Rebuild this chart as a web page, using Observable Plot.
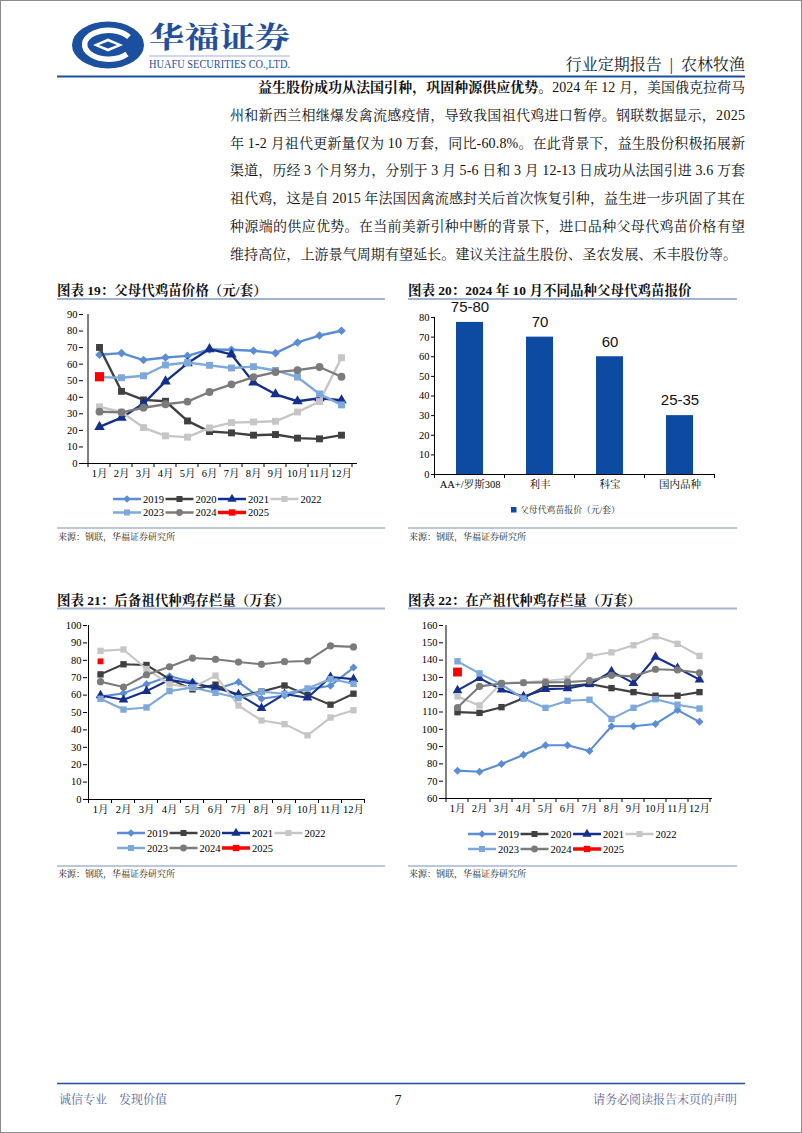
<!DOCTYPE html>
<html><head><meta charset="utf-8">
<script src="https://cdn.jsdelivr.net/npm/d3@7"></script>
<script src="https://cdn.jsdelivr.net/npm/@observablehq/plot@0.6"></script>
<style>
html,body{margin:0;padding:0;background:#fff;}
#page{position:relative;width:802px;height:1133px;overflow:hidden;background:#fff;}
#frame{position:absolute;left:0;top:0;width:802px;height:1133px;box-sizing:border-box;border:1px solid #8c8c8c;pointer-events:none;}
</style></head>
<body><div id="page"><svg id="deco" width="802" height="1133" style="position:absolute;left:0;top:0"></svg><div id="frame"></div></div>
<script>
// ---------- data ----------
const months = ["1月","2月","3月","4月","5月","6月","7月","8月","9月","10月","11月","12月"];
const years = ["2019","2020","2021","2022","2023","2024","2025"];

// 图表19 父母代鸡苗价格（元/套）
const price2019 = [65.7,66.7,62.5,64,65,68.9,68.7,68.1,66.7,73.1,77.3,80.2];
const price2020 = [70.1,43.6,38.4,37.6,25.7,19.3,18.5,17.1,17.5,15.3,14.9,17.1];
const price2021 = [22.1,27.7,36.2,49.6,60.5,69.1,65.9,49,41.8,37.6,39.4,38.2];
const price2022 = [34.2,31.1,21.7,16.7,15.9,21.5,24.7,25.1,25.5,31.1,37.4,63.9];
const price2023 = [52.2,51.8,53,59.5,61,59.3,57.7,58.5,56.2,52.2,42,35.4];
const price2024 = [31.3,30.9,33.7,35.8,37.4,43.2,47.8,52.2,55.2,56.4,58.3,52.4];
const price2025 = [52.4];
const priceTicks = [0,10,20,30,40,50,60,70,80,90];

// 图表20 2024年10月不同品种父母代鸡苗报价
const breeds = ["AA+/罗斯308","利丰","科宝","国内品种"];
const quote = [77.5,70,60,30];
const quoteLabels = ["75-80","70","60","25-35"];
const quoteTicks = [0,10,20,30,40,50,60,70,80];
const quoteLegend = "父母代鸡苗报价（元/套）";

// 图表21 后备祖代种鸡存栏量（万套）
const reserve2019 = [59.2,61,66.3,70.8,67.5,63.3,67.5,57.9,59.8,63.3,65.4,75.8];
const reserve2020 = [71.9,77.7,77.3,69.2,63.3,66,59.5,62,65.5,60,54.5,60.8];
const reserve2021 = [59.8,57.3,62.3,68.8,66.7,64.2,60.4,52.5,60.6,58.5,70.4,69.2];
const reserve2022 = [85.4,86.2,75,66.2,64.2,71.2,54,45.4,43.3,36.9,47.1,51.3];
const reserve2023 = [57.9,51.7,52.9,62.3,64.4,61.3,58.3,61.9,60.8,63.8,69.2,66.5];
const reserve2024 = [67.7,64.6,71.7,76.3,81.3,80.6,79,77.7,79.2,79.6,88.3,87.7];
const reserve2025 = [79.4];
const reserveTicks = [0,10,20,30,40,50,60,70,80,90,100];

// 图表22 在产祖代种鸡存栏量（万套）
const prod2019 = [76.1,75.5,79.9,85.3,90.8,90.8,87.5,101.8,101.8,103.1,111.1,104.3];
const prod2020 = [109.9,109.5,112.8,118,125,125,126.2,123.8,121.5,119.4,119.4,121.5];
const prod2021 = [122.5,129.6,122.9,119,123.2,123.6,126,133.5,126.7,141.8,135.4,128.7];
const prod2022 = [119,113.8,126.7,127.1,127.9,129.2,142.4,144.5,148.6,153.8,149.4,142.4];
const prod2023 = [139.3,132.3,125.8,117.8,112.4,116.5,117.1,106,112.4,117.4,114.2,112];
const prod2024 = [112.6,124.8,126.5,126.9,127.1,127.3,128.1,131.2,130.6,134.7,134.3,132.7];
const prod2025 = [133.1];
const prodTicks = [60,70,80,90,100,110,120,130,140,150,160];

// ---------- styles ----------
const SERIF = '"Liberation Serif","Times New Roman","Noto Serif CJK SC","Noto Sans CJK SC",serif';
const SANS = '"Liberation Sans",Arial,"Noto Sans CJK SC",sans-serif';
const CJK = '"Liberation Serif","Noto Serif CJK SC","Noto Sans CJK SC",serif';
const yearColors = ["#5a8dd6","#404040","#15308c","#c6c6c6","#7da8db","#7b7b7b","#ff0000"];
const yearSymbols = ["diamond2","square","triangle","square","square","circle","square"];
const symMap = {diamond2: d3.symbolDiamond2, square: d3.symbolSquare, triangle: d3.symbolTriangle, circle: d3.symbolCircle};

const page = document.getElementById("page");
const deco = d3.select("#deco");

// ---------- header ----------
const logo = deco.append("g");
logo.append("ellipse").attr("cx",108).attr("cy",45).attr("rx",36).attr("ry",23.5).attr("fill","#1b4f9f");
logo.append("path").attr("d","M 129 37 A 24 14.5 0 1 0 127 54").attr("fill","none").attr("stroke","#fff").attr("stroke-width",5.5);
logo.append("path").attr("d","M 93 45 L 108 38.5 L 123 45 L 108 51.5 Z").attr("fill","#fff");
logo.append("path").attr("d","M 99 45 L 108 41.5 L 117 45 L 108 48.5 Z").attr("fill","#1b4f9f");
deco.append("text").attr("x",149).attr("y",48).attr("font-family",CJK).attr("font-weight","bold").attr("font-size",29)
  .attr("fill","#1f4f9e").attr("textLength",141).attr("lengthAdjust","spacingAndGlyphs").text("华福证券");
deco.append("line").attr("x1",149).attr("x2",290).attr("y1",56).attr("y2",56).attr("stroke","#9fb2d6").attr("stroke-width",1);
deco.append("text").attr("x",149).attr("y",68).attr("font-family",SERIF).attr("font-size",11.5)
  .attr("fill","#1f4f9e").attr("textLength",141).attr("lengthAdjust","spacingAndGlyphs").text("HUAFU SECURITIES CO.,LTD.");
deco.append("text").attr("x",745).attr("y",70).attr("text-anchor","end").attr("font-family",CJK).attr("font-size",16)
  .attr("fill","#222").text("行业定期报告\u2002|\u2002农林牧渔");
deco.append("line").attr("x1",57).attr("x2",745).attr("y1",76.5).attr("y2",76.5).attr("stroke","#1f4f9e").attr("stroke-width",2);

// ---------- body text ----------
const bodyLines = [
  null,
  "州和新西兰相继爆发禽流感疫情，导致我国祖代鸡进口暂停。钢联数据显示，2025",
  "年 1-2 月祖代更新量仅为 10 万套，同比-60.8%。在此背景下，益生股份积极拓展新",
  "渠道，历经 3 个月努力，分别于 3 月 5-6 日和 3 月 12-13 日成功从法国引进 3.6 万套",
  "祖代鸡，这是自 2015 年法国因禽流感封关后首次恢复引种，益生进一步巩固了其在",
  "种源端的供应优势。在当前美新引种中断的背景下，进口品种父母代鸡苗价格有望",
  "维持高位，上游景气周期有望延长。建议关注益生股份、圣农发展、禾丰股份等。"
];
const first = deco.append("text").attr("x",258).attr("y",92).attr("font-family",CJK).attr("font-size",14)
  .attr("fill","#111").attr("textLength",487).attr("lengthAdjust","spacing");
first.append("tspan").attr("font-weight","bold").text("益生股份成功从法国引种，巩固种源供应优势。");
first.append("tspan").text("2024 年 12 月，美国俄克拉荷马");
bodyLines.forEach((t,i)=>{
  if(!t) return;
  deco.append("text").attr("x",230).attr("y",92+27.8*i).attr("font-family",CJK).attr("font-size",14)
    .attr("fill","#111").attr("textLength", i===6?507:515).attr("lengthAdjust","spacing").text(t);
});

// ---------- chart titles / sources ----------
function titleBlock(x, w, yTitle, yRule, ySrcRule, ySrc, title){
  deco.append("text").attr("x",x).attr("y",yTitle).attr("font-family",CJK).attr("font-weight","bold")
    .attr("font-size",13.5).attr("fill","#111").text(title);
  deco.append("line").attr("x1",x).attr("x2",x+w).attr("y1",yRule).attr("y2",yRule).attr("stroke","#a3b4d2").attr("stroke-width",2);
  deco.append("line").attr("x1",x).attr("x2",x+w).attr("y1",ySrcRule).attr("y2",ySrcRule).attr("stroke","#a3b4d2").attr("stroke-width",1.5);
  deco.append("text").attr("x",x+1).attr("y",ySrc).attr("font-family",CJK).attr("font-size",9)
    .attr("fill","#222").text("来源：钢联，华福证券研究所");
}
titleBlock(57,328,295,299,528,540,"图表 19：父母代鸡苗价格（元/套）");
titleBlock(408,329,295,299,528,540,"图表 20：2024 年 10 月不同品种父母代鸡苗报价");
titleBlock(57,328,605,608.5,866,877,"图表 21：后备祖代种鸡存栏量（万套）");
titleBlock(408,329,605,608.5,866,877,"图表 22：在产祖代种鸡存栏量（万套）");

// ---------- footer ----------
deco.append("line").attr("x1",57).attr("x2",745).attr("y1",1083.5).attr("y2",1083.5).attr("stroke","#1f4f9e").attr("stroke-width",1.5);
deco.append("text").attr("x",59).attr("y",1104).attr("font-family",CJK).attr("font-size",12).attr("fill","#5b6794").text("诚信专业\u3000发现价值");
deco.append("text").attr("x",398).attr("y",1105).attr("text-anchor","middle").attr("font-family",SERIF).attr("font-size",14).attr("fill","#111").text("7");
deco.append("text").attr("x",737).attr("y",1104).attr("text-anchor","end").attr("font-family",CJK).attr("font-size",12).attr("fill","#5b6794").text("请务必阅读报告末页的声明");

// ---------- helpers ----------
function place(chart, left, top){
  chart.style.position = "absolute";
  chart.style.left = left + "px";
  chart.style.top = top + "px";
  page.insertBefore(chart, document.getElementById("frame"));
}
function scaleFn(chart, name){
  const s = chart.scale(name);
  return v => s.apply(v);
}

function lineChart(cfg){
  const {left, top, width, height, ml, mr, mt, mb, yDomain, yTicks, series, sw, r, r25} = cfg;
  const marks = [Plot.ruleY([yDomain[0]], {stroke:"#000", strokeWidth:1})];
  series.forEach((vals, k) => {
    const data = vals.map((v,i)=>({m: months[i], v}));
    if (data.length > 1) marks.push(Plot.line(data, {x:"m", y:"v", stroke: yearColors[k], strokeWidth: sw}));
    marks.push(Plot.dot(data, {x:"m", y:"v", symbol: yearSymbols[k], r: k===6 ? r25 : r, fill: yearColors[k]}));
  });
  const chart = Plot.plot({
    width, height, marginLeft: ml, marginRight: mr, marginTop: mt, marginBottom: mb,
    x: {type:"point", domain: months, padding: 0.5, tickSize: 0, tickPadding: 6, label: null},
    y: {domain: yDomain, ticks: yTicks, tickSize: 4, tickPadding: 2, label: null},
    style: {fontFamily: SERIF, fontSize: "10.5px", color: "#000", background: "transparent", overflow: "visible"},
    marks
  });
  const sx = scaleFn(chart, "x"), sy = scaleFn(chart, "y");
  const c0 = sx(months[0]), step = sx(months[1]) - c0;
  const svg = d3.select(chart);
  const yb = sy(yDomain[0]), yt = sy(yDomain[1]);
  svg.append("line").attr("x1", c0-step/2).attr("x2", c0-step/2).attr("y1", yt).attr("y2", yb).attr("stroke","#000");
  months.concat([""]).forEach((m,i)=>{
    const x = c0 - step/2 + i*step;
    svg.append("line").attr("x1",x).attr("x2",x).attr("y1",yb).attr("y2",yb+4).attr("stroke","#000");
  });
  place(chart, left, top);
}

function legend(x0, y0, rowGap){
  years.forEach((yr,i)=>{
    const row = i < 4 ? 0 : 1, col = i < 4 ? i : i - 4;
    const g = deco.append("g").attr("transform", `translate(${x0 + col*52.5},${y0 + row*rowGap})`);
    g.append("line").attr("x1",0).attr("x2",28).attr("stroke",yearColors[i]).attr("stroke-width", i===6?3.5:2.5);
    const rr = i===6 ? 3.6 : 3.4;
    g.append("path").attr("d", d3.symbol(symMap[yearSymbols[i]], Math.PI*rr*rr)()).attr("transform","translate(14,0)").attr("fill",yearColors[i]);
    g.append("text").attr("x",30).attr("y",3.6).attr("font-family",SERIF).attr("font-size",10.5).attr("fill","#000").text(yr);
  });
}

// ---------- 图表19 ----------
lineChart({left:57, top:305, width:328, height:185, ml:26, mr:28, mt:9, mb:27,
  yDomain:[0,90], yTicks: priceTicks, sw:2.4, r:3.9, r25:5.2,
  series:[price2019,price2020,price2021,price2022,price2023,price2024,price2025]});
legend(113, 499, 13.5);

// ---------- 图表20 ----------
(function(){
  const width = 329, height = 190, ml = 27, mr = 22, mt = 12, mb = 21;
  const chart = Plot.plot({
    width, height, marginLeft: ml, marginRight: mr, marginTop: mt, marginBottom: mb,
    x: {type:"band", domain: breeds, paddingInner: 0.61, paddingOuter: 0.305, tickSize: 0, tickPadding: 6, label: null},
    y: {domain: [0,80], ticks: quoteTicks, tickSize: 4, tickPadding: 2, label: null},
    style: {fontFamily: SERIF, fontSize: "10.5px", color: "#000", background: "transparent", overflow: "visible"},
    marks: [
      Plot.barY(breeds, {x: breeds, y: quote, fill: "#0d4ba3"}),
      Plot.ruleY([0], {stroke:"#000"}),
      Plot.text(breeds, {x: breeds, y: quote, text: quoteLabels, dy: -15, fontSize: 15, fontFamily: SANS, fill: "#111"})
    ]
  });
  const s = chart.scale("x");
  const sx = v => s.apply(v), bw = s.bandwidth || 0;
  const sy = scaleFn(chart, "y");
  const c0 = sx(breeds[0]) + bw/2, step = sx(breeds[1]) - sx(breeds[0]);
  const svg = d3.select(chart);
  const yb = sy(0), yt = sy(80);
  svg.append("line").attr("x1", c0-step/2).attr("x2", c0-step/2).attr("y1", yt).attr("y2", yb).attr("stroke","#000");
  breeds.concat([""]).forEach((b,i)=>{
    const x = c0 - step/2 + i*step;
    svg.append("line").attr("x1",x).attr("x2",x).attr("y1",yb).attr("y2",yb+4).attr("stroke","#000");
  });
  place(chart, 408, 305);
  deco.append("rect").attr("x",511).attr("y",507).attr("width",5.5).attr("height",5.5).attr("fill","#0d4ba3");
  deco.append("text").attr("x",520).attr("y",513).attr("font-family",CJK).attr("font-size",9)
    .attr("fill","#222").attr("textLength",100).attr("lengthAdjust","spacingAndGlyphs").text(quoteLegend);
})();

// ---------- 图表21 ----------
lineChart({left:57, top:615, width:328, height:205, ml:30, mr:20, mt:10, mb:21,
  yDomain:[0,100], yTicks: reserveTicks, sw:2.1, r:3.6, r25:3.3,
  series:[reserve2019,reserve2020,reserve2021,reserve2022,reserve2023,reserve2024,reserve2025]});
legend(117, 833, 15);

// ---------- 图表22 ----------
lineChart({left:408, top:615, width:329, height:205, ml:35, mr:25, mt:10, mb:22,
  yDomain:[60,160], yTicks: prodTicks, sw:2.1, r:3.6, r25:5,
  series:[prod2019,prod2020,prod2021,prod2022,prod2023,prod2024,prod2025]});
legend(468, 834, 15);
</script></body></html>
